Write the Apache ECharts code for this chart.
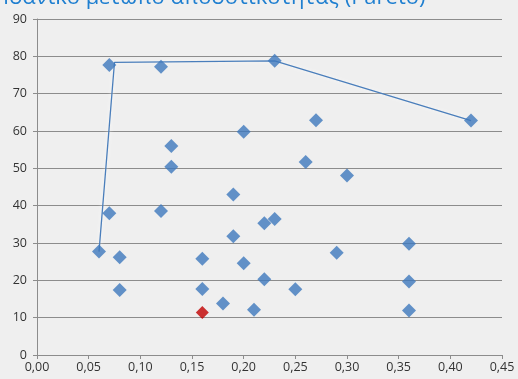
<!DOCTYPE html>
<html><head><meta charset="utf-8">
<script src="https://cdn.jsdelivr.net/npm/echarts@6/dist/echarts.min.js"></script>
<style>html,body{margin:0;padding:0;background:#efefef;}#c{width:518px;height:379px;}</style>
</head><body><div id="c"></div>
<script>
const titleText = "Ιδανικό μέτωπο αποδοτικότητας (Pareto)";
const xTicks = [0, 0.05, 0.10, 0.15, 0.20, 0.25, 0.30, 0.35, 0.40, 0.45];
const yTicks = [0, 10, 20, 30, 40, 50, 60, 70, 80, 90];
const pointsX = [0.07, 0.12, 0.13, 0.13, 0.07, 0.12, 0.06, 0.08, 0.08, 0.19, 0.22, 0.23, 0.19, 0.29, 0.16, 0.20, 0.22, 0.16, 0.25, 0.18, 0.21, 0.36, 0.36, 0.36, 0.23, 0.20, 0.27, 0.26, 0.30, 0.42];
const pointsY = [77.7, 77.2, 56.0, 50.4, 38.0, 38.6, 27.7, 26.2, 17.4, 43.0, 35.3, 36.4, 31.8, 27.4, 25.8, 24.6, 20.3, 17.7, 17.6, 13.8, 12.1, 29.8, 19.7, 11.9, 78.8, 59.8, 62.9, 51.7, 48.1, 62.8];
const highlightX = [0.16];
const highlightY = [11.4];
const frontX = [0.06, 0.075, 0.23, 0.42];
const frontY = [27.7, 78.4, 78.8, 62.8];

const zip = (a, b) => a.map((v, i) => [v, b[i]]);
const chart = echarts.init(document.getElementById('c'), null, {renderer: 'canvas'});
chart.setOption({
  backgroundColor: '#efefef',
  animation: false,
  title: {
    text: titleText, left: -2, top: -18,
    textStyle: {color: '#1f7fd0', fontSize: 22, fontWeight: 'normal', fontFamily: 'Open Sans'}
  },
  grid: {left: 37, right: 16, top: 19, bottom: 24, containLabel: false},
  xAxis: {
    type: 'value', min: 0, max: 0.45, interval: 0.05,
    axisLine: {show: true, lineStyle: {color: '#8c8c8c', width: 1}},
    axisTick: {show: true, length: 4, lineStyle: {color: '#8c8c8c'}},
    splitLine: {show: false},
    axisLabel: {color: '#333333', fontSize: 12.5, fontFamily: 'Open Sans', margin: 6,
      formatter: v => v.toFixed(2).replace('.', ',')}
  },
  yAxis: {
    type: 'value', min: 0, max: 90, interval: 10,
    axisLine: {show: true, lineStyle: {color: '#8c8c8c', width: 1}},
    axisTick: {show: true, length: 4, lineStyle: {color: '#8c8c8c'}},
    splitLine: {show: true, lineStyle: {color: '#8c8c8c', width: 1}},
    axisLabel: {color: '#333333', fontSize: 12.5, fontFamily: 'Open Sans', margin: 10}
  },
  series: [
    {
      type: 'line', data: zip(frontX, frontY), showSymbol: false, symbol: 'none',
      lineStyle: {color: '#4a7ebb', width: 1.3, shadowColor: 'rgba(255,255,255,0.9)', shadowBlur: 4},
      z: 2
    },
    {
      type: 'scatter', data: zip(pointsX, pointsY), symbol: 'diamond', symbolSize: 14,
      itemStyle: {color: '#3d78bd'}, z: 3
    },
    {
      type: 'scatter', data: zip(highlightX, highlightY), symbol: 'diamond', symbolSize: 13,
      itemStyle: {color: '#c00000'}, z: 4
    }
  ]
});
</script></body></html>
